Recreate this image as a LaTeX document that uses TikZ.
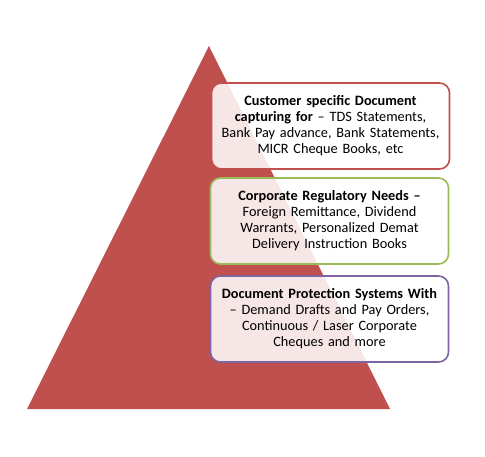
\documentclass[tikz,border=0pt]{standalone}
\usepackage{fontspec}
\setmainfont{Carlito}
\usepackage{tikz}
\usetikzlibrary{positioning}

\definecolor{pyrred}{HTML}{C0504D}
\definecolor{pyrgreen}{HTML}{9BBB59}
\definecolor{pyrpurple}{HTML}{8064A2}

\tikzset{
  levelbox/.style={draw, line width=1.6pt, rounded corners=10pt, fill=white, fill opacity=0.86,
    text opacity=1, minimum width=238pt, minimum height=86pt, text width=234pt, align=center,
    inner sep=0pt, font=\fontsize{14.3}{16}\selectfont}
}

\begin{document}
\begin{tikzpicture}[x=1pt,y=-1pt]
\useasboundingbox (0,0) rectangle (485,457);
% pyramid
\fill [pyrred] (209,46) -- (390,409) -- (27,409) -- cycle;
% levels
\node [levelbox, draw=pyrred] (custdoc) at (330.5,126) {\textbf{Customer specific Document}\\\textbf{capturing for} -- TDS Statements,\\Bank Pay advance, Bank Statements,\\MICR Cheque Books, etc};
\node [levelbox, draw=pyrgreen] (corpreg) at (329.5,221) {\textbf{Corporate Regulatory Needs --}\\Foreign Remittance, Dividend\\Warrants, Personalized Demat\\Delivery Instruction Books};
\node [levelbox, draw=pyrpurple] (docprot) at (329.5,319) {\textbf{Document Protection Systems With}\\-- Demand Drafts and Pay Orders,\\Continuous / Laser Corporate\\Cheques and more};
\end{tikzpicture}
\end{document}
